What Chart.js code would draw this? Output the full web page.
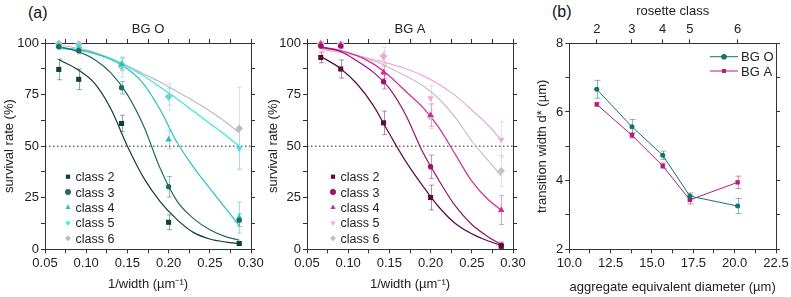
<!DOCTYPE html>
<html>
<head>
<meta charset="utf-8">
<script src="https://cdn.jsdelivr.net/npm/chart.js@4.4.1/dist/chart.umd.min.js"></script>
<style>
  body { margin:0; background:#fff; width:791px; height:297px; overflow:hidden; position:relative;
         font-family:'Liberation Sans', Arial, sans-serif; }
  .pn  { position:absolute; top:0; height:297px; }
  .tag { position:absolute; font-size:16px; line-height:16px; color:#111; }
</style>
</head>
<body>
<div class="tag" style="left:28px;top:5px">(a)</div>
<div class="tag" style="left:552px;top:4px">(b)</div>
<div class="pn" style="left:0;width:275px"><canvas id="c-bgo"></canvas></div>
<div class="pn" style="left:262px;width:275px"><canvas id="c-bga"></canvas></div>
<div class="pn" style="left:522px;width:269px"><canvas id="c-width"></canvas></div>
<script>
const FONT = "'Liberation Sans', Arial, sans-serif";

// ---- (a) survival vs 1/width ----
const widthX     = [0.0667, 0.0909, 0.1429, 0.2, 0.2857];
const fitX       = [0.0667, 0.09, 0.11, 0.13, 0.15, 0.17, 0.19, 0.21, 0.23, 0.25, 0.27, 0.2857];
const classNames = ['class 2', 'class 3', 'class 4', 'class 5', 'class 6'];
const widthMajor = [0.05, 0.10, 0.15, 0.20, 0.25, 0.30];
const widthMinor = [0.075, 0.125, 0.175, 0.225, 0.275];
const survMajor  = [0, 25, 50, 75, 100];
const survMinor  = [12.5, 37.5, 62.5, 87.5];
const survHalf   = 50;

const bgoSurv = [
  [87.2, 82.4, 61.0, 13.1, 2.8],
  [98.2, 96.3, 78.3, 30.3, 14.1],
  [98.5, 97.0, 89.8, 53.2, 15.4],
  [99.0, 98.5, 89.5, 73.9, 48.9],
  [99.8, 99.5, 88.5, 73.9, 58.6],
];
const bgoErr = [
  [5, 5, 4, 3.6, 1],
  [1, 1.5, 3, 5, 3],
  [1, 1, 3, 4.5, 7.5],
  [1, 1, 3, 4, 10],
  [1, 1, 5, 6.5, 20],
];
const bgoFit = [
  [92, 87, 80.5, 68, 50, 34.5, 23, 14.5, 8.2, 5, 3.5, 2.8],
  [98.2, 95.8, 92, 85.5, 75, 59.5, 39, 23.5, 15, 9.5, 6, 4.4],
  [97.9, 96.8, 95, 92, 87.5, 80, 67.5, 52, 40, 29.5, 19.5, 11.5],
  [97.4, 96.5, 95, 92.5, 88.5, 84, 78.5, 73, 67, 61, 55, 50],
  [99, 97.5, 95.5, 92.5, 89, 85, 81, 76.5, 72, 67, 61.5, 56.5],
];

const bgaSurv = [
  [93.0, 87.4, 61.3, 25.1, 1.5],
  [98.5, 98.5, 81.2, 40.0, 2.0],
  [99.5, 99.0, 85.8, 65.0, 19.0],
  [99.5, 99.0, 93.0, 73.3, 53.2],
  [99.8, 99.5, 93.7, 64.2, 38.0],
];
const bgaErr = [
  [2.6, 4.4, 5.7, 6, 1],
  [1, 1, 3.5, 5.7, 1.5],
  [1, 1, 3, 5.5, 7],
  [1, 1, 3, 6, 8.6],
  [1, 1, 4.2, 5.7, 7.5],
];
const bgaFit = [
  [93.5, 87.8, 80.5, 70, 56, 42.5, 31, 20.5, 12.5, 7.5, 4, 1.9],
  [97.9, 96, 91.5, 86, 78, 65, 47.5, 33.5, 21, 12, 6, 2.4],
  [98.2, 96.5, 94, 90, 84, 76.5, 69, 59, 46, 33, 24, 19],
  [96.9, 95.5, 94, 92, 90, 87.5, 84.3, 80, 74.5, 67.5, 60, 53],
  [97.4, 96, 94, 91.5, 88, 84, 79.5, 73, 64, 52.5, 43, 35.5],
];

const bgoColors = ['#0f3f38', '#1e6d65', '#25c3bd', '#3ee3e6', '#bdbdbd'];
const bgaColors = ['#5a0d3b', '#9c0f6c', '#d22b9b', '#f2a7d8', '#c2c2c2'];
const classMarks = [
  { pointStyle:'rect',     radius:3.6, rotation:0 },
  { pointStyle:'circle',   radius:2.7, rotation:0 },
  { pointStyle:'triangle', radius:3.8, rotation:0 },
  { pointStyle:'triangle', radius:3.8, rotation:180 },
  { pointStyle:'rectRot',  radius:3.8, rotation:0 },
];

// ---- (b) transition width ----
const rosetteClass = ['2', '3', '4', '5', '6'];
const aggDiam      = [11.66, 13.79, 15.65, 17.29, 20.18];
const bgoWidth     = [6.66, 5.57, 4.74, 3.55, 3.26];
const bgoWidthErr  = [0.26, 0.21, 0.12, 0.09, 0.22];
const bgaWidth     = [6.22, 5.32, 4.43, 3.44, 3.95];
const bgaWidthErr  = [0.05, 0.08, 0.08, 0.12, 0.18];
const diamMajor    = [10, 12.5, 15, 17.5, 20, 22.5];
const diamMinor    = [11.25, 13.75, 16.25, 18.75, 21.25];
const dMajor       = [2, 4, 6, 8];
const dMinor       = [3, 5, 7];

Chart.defaults.font.family = FONT;
Chart.defaults.font.size = 13;
Chart.defaults.color = '#222';
Chart.defaults.animation = false;

const alpha = (hex, a) => {
  const n = parseInt(hex.slice(1), 16);
  return `rgba(${n >> 16},${(n >> 8) & 255},${n & 255},${a})`;
};

// error bars drawn under the markers, from ds.err
const errorBars = {
  id: 'errorBars',
  beforeDatasetsDraw(chart) {
    const { ctx } = chart;
    chart.data.datasets.forEach(ds => {
      if (!ds.err) return;
      const x = chart.scales[ds.xAxisID || 'x'], y = chart.scales[ds.yAxisID || 'y'];
      ctx.save();
      ctx.strokeStyle = ds.errColor; ctx.lineWidth = 1;
      ds.data.forEach((p, j) => {
        const px = Math.round(x.getPixelForValue(p.x)) + 0.5;
        const t = y.getPixelForValue(p.y + ds.err[j]), b = y.getPixelForValue(p.y - ds.err[j]);
        const c = ds.cap || 2.5;
        ctx.beginPath();
        ctx.moveTo(px, t); ctx.lineTo(px, b);
        ctx.moveTo(px - c, t); ctx.lineTo(px + c, t);
        ctx.moveTo(px - c, b); ctx.lineTo(px + c, b);
        ctx.stroke();
      });
      ctx.restore();
    });
  }
};

// legend inside the plot area
const inLegend = {
  id: 'inLegend',
  afterDraw(chart, args, o) {
    if (!o || o.x == null) return;
    const { ctx, chartArea: a } = chart;
    const sets = chart.data.datasets.filter(d => d.inLegend);
    ctx.save();
    ctx.font = `${o.size}px ${FONT}`;
    ctx.textBaseline = 'middle';
    sets.forEach((d, i) => {
      const x = o.fromRight ? a.right - o.x : a.left + o.x;
      const y = a.top + o.y + i * o.gap;
      if (o.lineLen) {
        ctx.strokeStyle = d.borderColor; ctx.lineWidth = 1;
        ctx.beginPath(); ctx.moveTo(x - o.lineLen, y); ctx.lineTo(x + o.lineLen, y); ctx.stroke();
      }
      ctx.fillStyle = d.backgroundColor;
      Chart.helpers.drawPoint(ctx, { pointStyle: d.pointStyle, radius: o.r, rotation: d.rotation || 0, borderWidth: 0 }, x, y);
      ctx.fillStyle = '#222';
      ctx.fillText(d.label, x + o.tx, y + 1);
    });
    ctx.restore();
  }
};

function axis(pos, min, max, ticks, size, fmt, title) {
  const horiz = pos === 'top' || pos === 'bottom';
  return {
    type: 'linear', position: pos, min, max,
    afterBuildTicks: s => { s.ticks = [...ticks].sort((a, b) => a - b).map(value => ({ value })); },
    afterFit: s => {
      if (horiz) s.height = size; else s.width = size;
      s.paddingLeft = s.paddingRight = s.paddingTop = s.paddingBottom = 0;
    },
    grid:   { display: true, drawOnChartArea: false, drawTicks: true, tickLength: 4, color: '#333', lineWidth: 1 },
    border: { display: true, color: '#333', width: 1 },
    ticks:  { display: !!fmt, autoSkip: false, maxRotation: 0, padding: 2, color: '#222', font: { size: 13 },
              callback: v => fmt ? fmt(v) : '' },
    title:  title ? { display: true, color: '#222', font: { size: 13 }, ...title } : { display: false },
  };
}

function survivalPanel(id, name, surv, err, fit, colors, legendX, yTitlePad) {
  const datasets = [];
  surv.forEach((row, i) => {
    datasets.push({
      label: classNames[i], inLegend: true,
      data: widthX.map((x, j) => ({ x, y: row[j] })),
      err: err[i], errColor: alpha(colors[i], 0.45),
      backgroundColor: colors[i], borderColor: colors[i], borderWidth: 0, pointBorderWidth: 0,
      pointStyle: classMarks[i].pointStyle, pointRadius: classMarks[i].radius,
      rotation: classMarks[i].rotation, pointRotation: classMarks[i].rotation,
      showLine: false, clip: false, order: 1,
    });
  });
  fit.forEach((row, i) => {
    datasets.push({
      label: classNames[i] + ' fit',
      data: fitX.map((x, j) => ({ x, y: row[j] })),
      borderColor: colors[i], backgroundColor: colors[i], borderWidth: 1.2,
      showLine: true, pointRadius: 0, cubicInterpolationMode: 'monotone', order: 2,
    });
  });
  datasets.push({
    label: 'half',
    data: [widthMajor[0], widthMajor[widthMajor.length - 1]].map(x => ({ x, y: survHalf })),
    borderColor: '#222', borderWidth: 1, borderDash: [1.5, 2.5],
    showLine: true, pointRadius: 0, order: 3,
  });

  const xs = [...widthMajor, ...widthMinor], ys = [...survMajor, ...survMinor];
  new Chart(document.getElementById(id), {
    type: 'scatter',
    data: { datasets },
    options: {
      responsive: true, maintainAspectRatio: false,
      layout: { padding: 0 },
      plugins: {
        legend: { display: false }, tooltip: { enabled: false },
        inLegend: { x: legendX, y: 133.7, gap: 15.4, r: 3, tx: 7.5, size: 12.5 },
      },
      scales: {
        x:    axis('bottom', 0.05, 0.30, xs, 47.7, v => widthMajor.includes(v) ? v.toFixed(2) : '',
                   { text: '1/width (µm⁻¹)', padding: { top: 2, bottom: 5 } }),
        xTop: axis('top', 0.05, 0.30, xs, 43, null, { text: name, padding: { top: 22, bottom: 0 } }),
        y:    axis('left', 0, 100, ys, 45, v => survMajor.includes(v) ? String(v) : '',
                   { text: 'survival rate (%)', padding: { top: yTitlePad, bottom: 2 } }),
        yR:   axis('right', 0, 100, ys, 24, null),
      },
    },
    plugins: [errorBars, inLegend],
  });
}

survivalPanel('c-bgo', 'BG O', bgoSurv, bgoErr, bgoFit, bgoColors, 23, 2);
survivalPanel('c-bga', 'BG A', bgaSurv, bgaErr, bgaFit, bgaColors, 26, 4);

// ---- (b) ----
const tealB = '#137368', pinkB = '#ac1f7d';
new Chart(document.getElementById('c-width'), {
  type: 'scatter',
  data: {
    datasets: [
      { label: 'BG O', inLegend: true, data: aggDiam.map((x, j) => ({ x, y: bgoWidth[j] })),
        err: bgoWidthErr, errColor: alpha(tealB, 0.5), cap: 3,
        borderColor: tealB, backgroundColor: tealB, borderWidth: 1, showLine: true,
        pointStyle: 'circle', pointRadius: 2.5, pointBorderWidth: 0, clip: false },
      { label: 'BG A', inLegend: true, data: aggDiam.map((x, j) => ({ x, y: bgaWidth[j] })),
        err: bgaWidthErr, errColor: alpha(pinkB, 0.5), cap: 3,
        borderColor: pinkB, backgroundColor: pinkB, borderWidth: 1, showLine: true,
        pointStyle: 'rect', pointRadius: 3.1, pointBorderWidth: 0, clip: false },
    ]
  },
  options: {
    responsive: true, maintainAspectRatio: false,
    layout: { padding: 0 },
    plugins: {
      legend: { display: false }, tooltip: { enabled: false },
      inLegend: { x: 52, fromRight: true, y: 13.4, gap: 14.3, r: 2.8, tx: 17, size: 13, lineLen: 14 },
    },
    scales: {
      x:    axis('bottom', 10, 22.5, [...diamMajor, ...diamMinor], 47.7,
                 v => diamMajor.includes(v) ? v.toFixed(1) : '',
                 { text: 'aggregate equivalent diameter (µm)', padding: { top: 2, bottom: 2 } }),
      xTop: axis('top', 10, 22.5, aggDiam, 43.3, v => rosetteClass[aggDiam.indexOf(v)] ?? '',
                 { text: 'rosette class', padding: { top: 4, bottom: 0 } }),
      y:    axis('left', 2, 8, [...dMajor, ...dMinor], 47.3, v => dMajor.includes(v) ? String(v) : '',
                 { text: 'transition width d* (µm)', padding: { top: 13, bottom: 2 } }),
      yR:   axis('right', 2, 8, [...dMajor, ...dMinor], 15, null),
    },
  },
  plugins: [errorBars, inLegend],
});
</script>
</body>
</html>
